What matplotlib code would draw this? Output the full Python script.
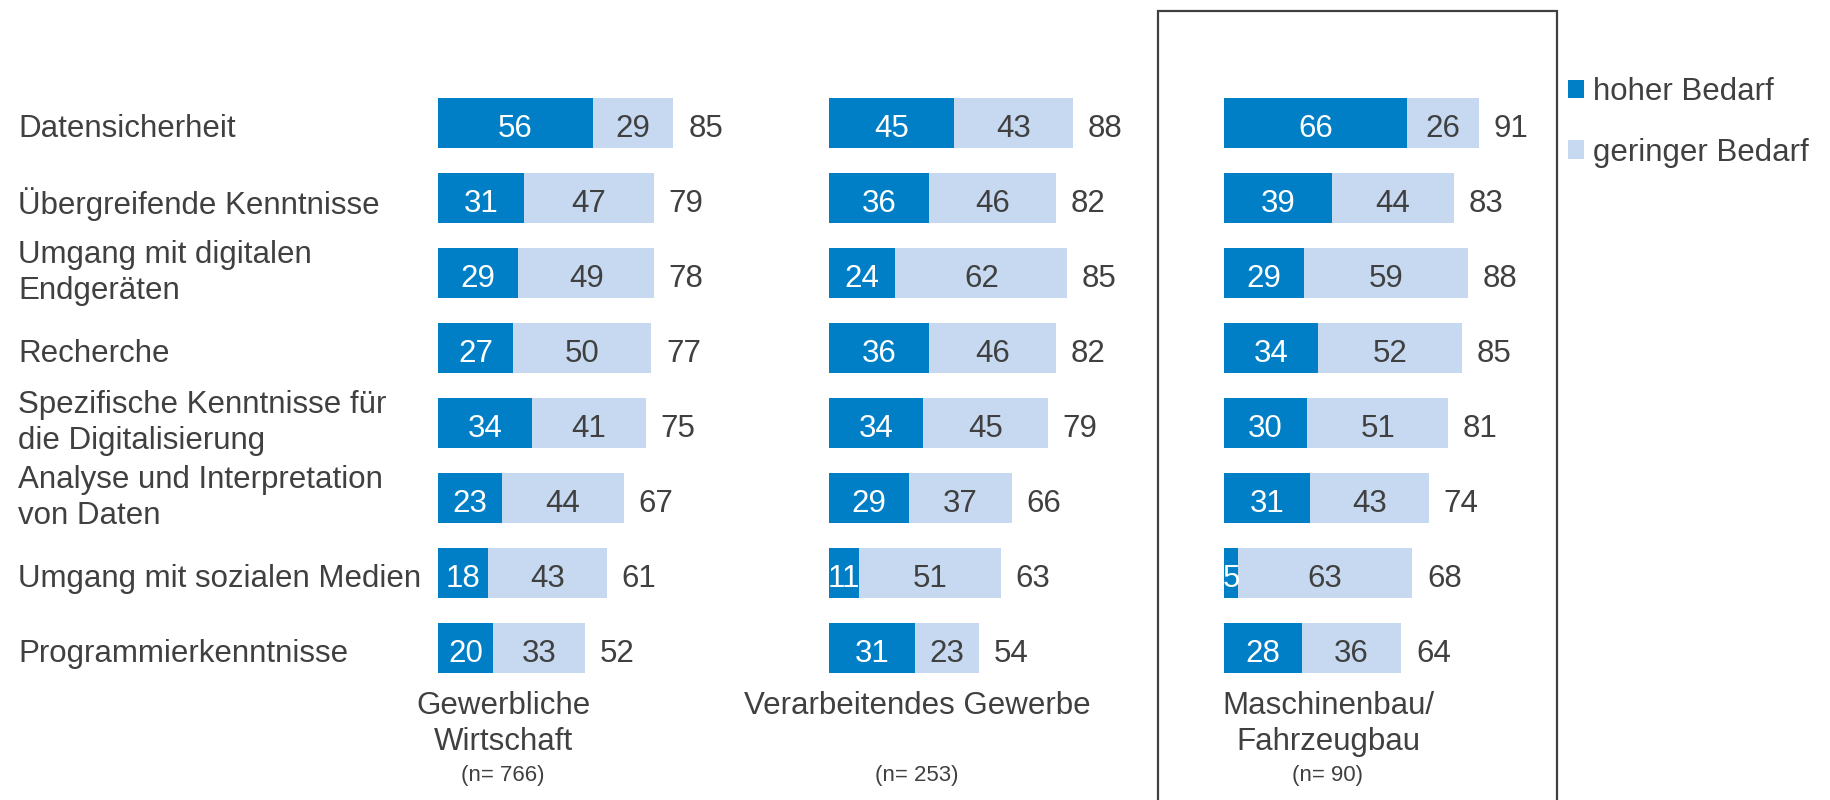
import numpy as np
import matplotlib
matplotlib.use('Agg')
import matplotlib.pyplot as plt
from matplotlib.patches import Rectangle
from matplotlib.transforms import blended_transform_factory

plt.rcParams['font.family'] = ['Liberation Sans', 'DejaVu Sans']

# Daten
kategorien = ['Datensicherheit', 'Übergreifende Kenntnisse', 'Umgang mit digitalen\nEndgeräten',
              'Recherche', 'Spezifische Kenntnisse für\ndie Digitalisierung',
              'Analyse und Interpretation\nvon Daten', 'Umgang mit sozialen Medien',
              'Programmierkenntnisse']
gruppen = ['Gewerbliche\nWirtschaft', 'Verarbeitendes Gewerbe', 'Maschinenbau/\nFahrzeugbau']
stichprobe = ['(n= 766)', '(n= 253)', '(n= 90)']

hoch_gw = [56, 31, 29, 27, 34, 23, 18, 20]
gering_gw = [29, 47, 49, 50, 41, 44, 43, 33]
gesamt_gw = [85, 79, 78, 77, 75, 67, 61, 52]

hoch_vg = [45, 36, 24, 36, 34, 29, 11, 31]
gering_vg = [43, 46, 62, 46, 45, 37, 51, 23]
gesamt_vg = [88, 82, 85, 82, 79, 66, 63, 54]

hoch_mb = [66, 39, 29, 34, 30, 31, 5, 28]
gering_mb = [26, 44, 59, 52, 51, 43, 63, 36]
gesamt_mb = [91, 83, 88, 85, 81, 74, 68, 64]

dunkel = '#007FC7'
hell = '#C6D9F1'
grau = '#404040'
fs = 22.5
dy = 0.08  # kleine Korrektur, damit Zahlen optisch mittig sitzen

W, H = 1831, 800
fig = plt.figure(figsize=(W / 100, H / 100), dpi=100)

# Achsen-Layout in Pixeln
panel_links = [438, 829, 1224]
panel_breite = 277
y_oben, y_unten = 85.5, 685.5
label_mitte_x = [503, 917, 1328]

daten = [(hoch_gw, gering_gw, gesamt_gw), (hoch_vg, gering_vg, gesamt_vg), (hoch_mb, gering_mb, gesamt_mb)]
y = np.arange(len(kategorien))

axes = []
for i, (hoch, gering, gesamt) in enumerate(daten):
    ax = fig.add_axes([panel_links[i] / W, 1 - y_unten / H, panel_breite / W, (y_unten - y_oben) / H])
    ax.barh(y, hoch, height=0.67, color=dunkel, label='hoher Bedarf')
    ax.barh(y, gering, left=hoch, height=0.67, color=hell, label='geringer Bedarf')
    for yy, h, g, t in zip(y, hoch, gering, gesamt):
        ax.text(h / 2, yy + dy, str(h), ha='center', va='center', color='white', fontsize=fs)
        ax.text(h + g / 2, yy + dy, str(g), ha='center', va='center', color=grau, fontsize=fs)
        ax.text(h + g + 5.3, yy + dy, str(t), ha='left', va='center', color=grau, fontsize=fs)
    ax.set_xlim(0, 100)
    ax.set_ylim(len(kategorien) - 0.5, -0.5)
    ax.axis('off')
    axes.append(ax)

# Kategorien links
trans = blended_transform_factory(fig.transFigure, axes[0].transData)
for yy, k in zip(y, kategorien):
    off = 0.0 if '\n' in k else dy
    axes[0].text(18 / W, yy + off, k, transform=trans, ha='left', va='center', color=grau,
                 fontsize=fs, linespacing=1.3)

# Gruppenbeschriftung
for i in range(3):
    fig.text(label_mitte_x[i] / W, 1 - 691 / H, gruppen[i], ha='center', va='top', color=grau,
             fontsize=fs, linespacing=1.28)
    fig.text(label_mitte_x[i] / W, 1 - 775 / H, stichprobe[i], ha='center', va='center', color=grau,
             fontsize=16)

# Rahmen um Maschinenbau
fig.add_artist(Rectangle((1158 / W, -0.01), (1557 - 1158) / W, 1.01 - 11 / H,
                         transform=fig.transFigure, fill=False, edgecolor=grau, linewidth=1.6))

# Legende
handles, labels = axes[0].get_legend_handles_labels()
fig.legend(handles, labels, loc='upper left', bbox_to_anchor=(1568 / W, 1 - 77 / H), frameon=False,
           fontsize=fs, handlelength=0.52, handleheight=0.52, handletextpad=0.28, labelspacing=0.98,
           labelcolor=grau, borderaxespad=0, borderpad=0)

fig.savefig('out.png', dpi=100, facecolor='white')
